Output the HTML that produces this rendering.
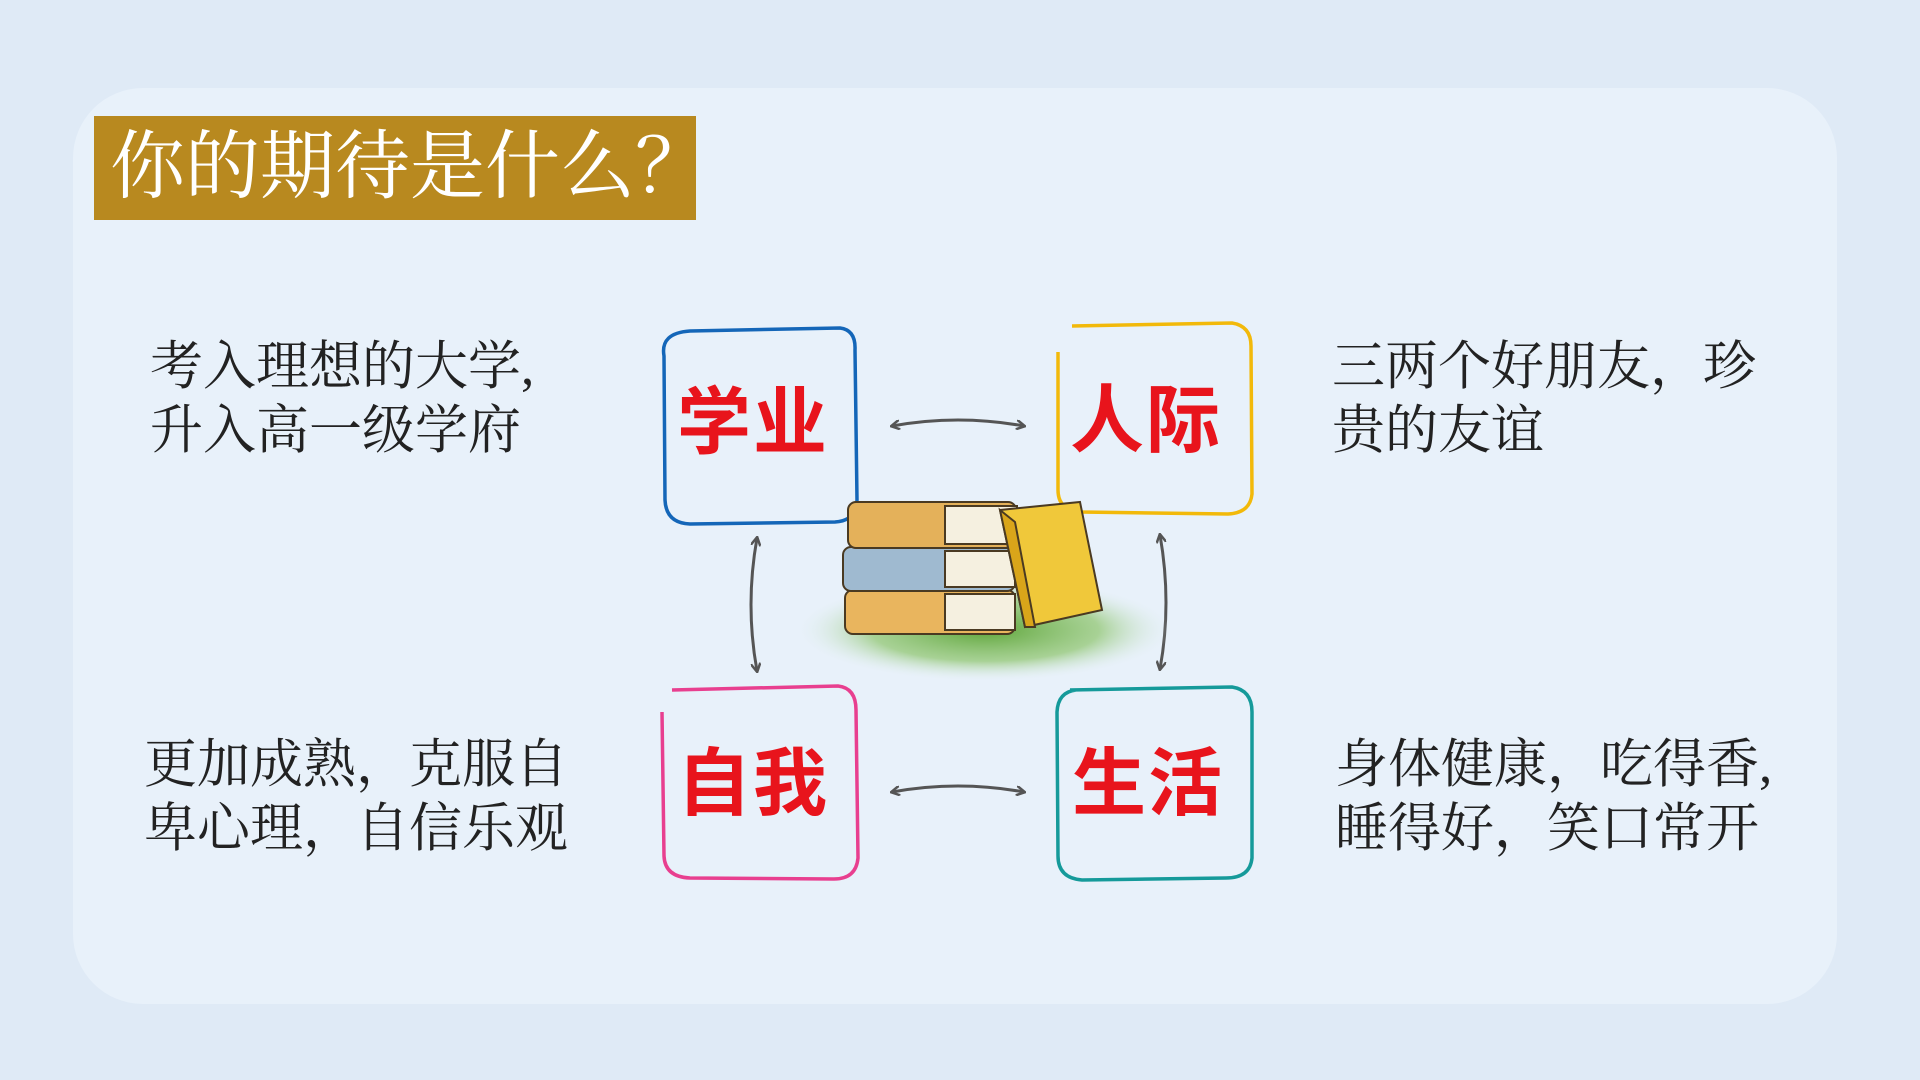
<!DOCTYPE html>
<html><head><meta charset="utf-8"><style>
html,body{margin:0;padding:0}
body{width:1920px;height:1080px;background:#dfeaf6;position:relative;overflow:hidden;font-family:"Liberation Sans","Noto Sans CJK SC",sans-serif}
.panel{position:absolute;left:73px;top:88px;width:1764px;height:916px;background:#e8f1fa;border-radius:70px}
.title{position:absolute;left:94px;top:116px;width:602px;height:104px;background:#b8891f;color:#fff;font-family:"Liberation Serif","Noto Serif CJK SC",serif;font-size:75px;line-height:104px;padding-left:16px;box-sizing:border-box;white-space:nowrap}
.txt{position:absolute;font-family:"Liberation Serif","Noto Serif CJK SC",serif;font-size:53px;line-height:64px;color:#222;white-space:nowrap}
.lab{position:absolute;font-family:"Liberation Sans","Noto Sans CJK SC",sans-serif;font-weight:700;font-size:74px;color:#e8141c;width:196px;text-align:center;letter-spacing:2px}
svg{position:absolute;left:0;top:0}
</style></head><body>
<div class="panel"></div>
<div class="title">你的期待是什么？</div>
<svg width="1920" height="1080">
<defs>
<marker id="a" markerWidth="10" markerHeight="10" refX="8" refY="5" orient="auto-start-reverse" markerUnits="userSpaceOnUse"><path d="M0,0 L9,5 L0,10" fill="none" stroke="#555" stroke-width="2.5"/></marker>
<radialGradient id="g" cx="50%" cy="50%" r="50%"><stop offset="0" stop-color="#5ea53a"/><stop offset="0.6" stop-color="#8cc46a" stop-opacity="0.7"/><stop offset="1" stop-color="#e8f1fa" stop-opacity="0"/></radialGradient>
</defs>
<path d="M664,356 Q660,333 690,331 L840,328 Q856,330 855,350 L857,500 Q856,521 835,522 L690,524 Q666,523 665,500 Z" fill="none" stroke="#1466b8" stroke-width="3.5"/>
<path d="M1072,326 L1232,323 Q1251,326 1251,346 L1252,494 Q1250,513 1228,514 L1080,512 Q1058,510 1058,490 L1058,352" fill="none" stroke="#f2b90a" stroke-width="3.5"/>
<path d="M672,690 L838,686 Q856,688 856,710 L858,858 Q856,879 834,879 L690,878 Q665,877 664,856 L662,712" fill="none" stroke="#e83f8f" stroke-width="3.5"/>
<path d="M1070,690 L1232,687 Q1252,690 1252,712 L1252,858 Q1250,878 1226,878 L1082,880 Q1058,878 1058,856 L1057,712 Q1058,692 1076,690" fill="none" stroke="#159a9a" stroke-width="3.5"/>
<path d="M892,426 Q958,414 1024,426" fill="none" stroke="#555" stroke-width="3" marker-start="url(#a)" marker-end="url(#a)"/>
<path d="M892,792 Q958,780 1024,792" fill="none" stroke="#555" stroke-width="3" marker-start="url(#a)" marker-end="url(#a)"/>
<path d="M757,538 Q745,605 757,671" fill="none" stroke="#555" stroke-width="3" marker-start="url(#a)" marker-end="url(#a)"/>
<path d="M1160,535 Q1172,603 1160,669" fill="none" stroke="#555" stroke-width="3" marker-start="url(#a)" marker-end="url(#a)"/>
<ellipse cx="985" cy="630" rx="190" ry="52" fill="url(#g)"/>
<g stroke="#4a3a22" stroke-width="2" transform="translate(0,-18)">
<rect x="845" y="608" width="170" height="44" rx="8" fill="#e9b55e"/>
<rect x="945" y="612" width="70" height="36" fill="#f5f0e0"/>
<rect x="843" y="565" width="172" height="44" rx="8" fill="#9fbad0"/>
<rect x="945" y="569" width="70" height="36" fill="#f5f0e0"/>
<rect x="848" y="520" width="168" height="46" rx="8" fill="#e4b15a"/>
<rect x="945" y="524" width="72" height="38" fill="#f5f0e0"/>
<path d="M1000,528 L1080,520 L1102,628 L1025,645 Z" fill="#f0c83a"/>
<path d="M1000,528 L1015,540 L1035,645 L1025,645 Z" fill="#d9a51a"/>
</g>
</svg>
<div class="lab" style="left:655px;top:363px">学业</div>
<div class="lab" style="left:1048px;top:361px">人际</div>
<div class="lab" style="left:655px;top:724px">自我</div>
<div class="lab" style="left:1050px;top:724px">生活</div>
<div class="txt" style="left:150px;top:335px">考入理想的大学,<br>升入高一级学府</div>
<div class="txt" style="left:1332px;top:335px">三两个好朋友，珍<br>贵的友谊</div>
<div class="txt" style="left:144px;top:733px">更加成熟，克服自<br>卑心理，自信乐观</div>
<div class="txt" style="left:1335px;top:733px">身体健康，吃得香,<br>睡得好，笑口常开</div>
</body></html>
